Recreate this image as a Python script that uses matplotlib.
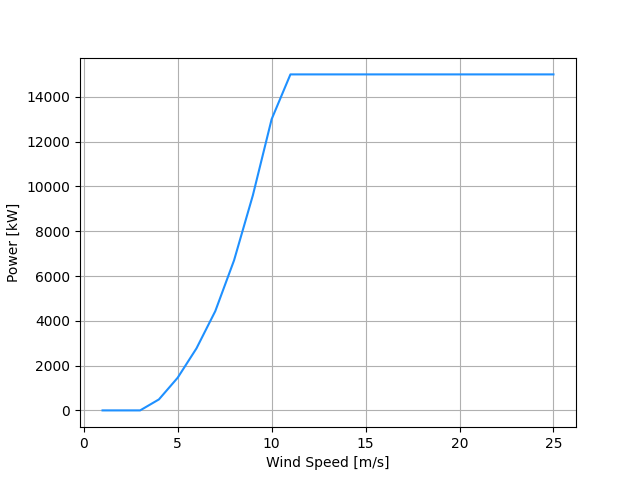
import matplotlib.pyplot as plt

wind_speed = list(range(1, 26))
power = [0, 0, 0, 490, 1460, 2770, 4430, 6700, 9600, 13000] + [15000] * 15

plt.figure(figsize=(6.4, 4.8), dpi=100)
plt.plot(wind_speed, power, color='dodgerblue')
plt.xlabel('Wind Speed [m/s]')
plt.ylabel('Power [kW]')
plt.grid(True)
plt.savefig('out.png')
